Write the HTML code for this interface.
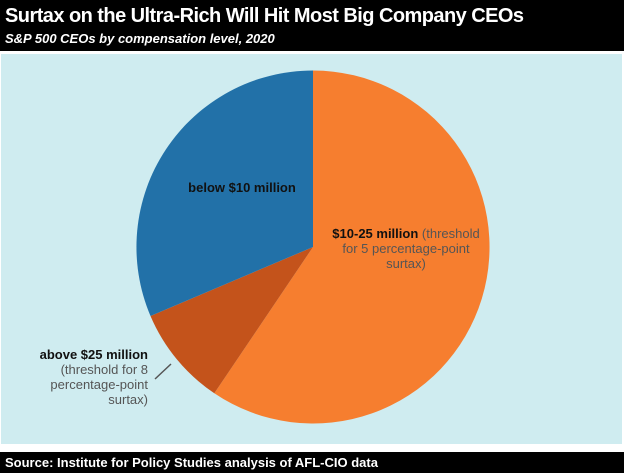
<!DOCTYPE html>
<html><head><meta charset="utf-8"><style>
body{margin:0;width:624px;height:473px;background:#fff;position:relative;overflow:hidden;font-family:"Liberation Sans",Arial,sans-serif}
#hd{position:absolute;left:0;top:0;width:624px;height:51px;background:#000;color:#fff}
#t{position:absolute;left:5px;top:5px;font-size:20px;font-weight:bold;letter-spacing:-0.55px;white-space:nowrap}
#s{position:absolute;left:5px;top:31px;font-size:13px;font-weight:bold;font-style:italic;white-space:nowrap}
#pl{position:absolute;left:1px;top:54px;width:621px;height:390px;background:#cfecf0}
#ft{position:absolute;left:0;top:452px;width:624px;height:21px;background:#000;color:#fff;font-size:13px;font-weight:bold}
</style></head><body>
<div id="hd"><div id="t">Surtax on the Ultra-Rich Will Hit Most Big Company CEOs</div><div id="s">S&amp;P 500 CEOs by compensation level, 2020</div></div>
<div id="pl"></div>
<svg style="position:absolute;left:0;top:0" width="624" height="473">
<path d="M313,247 L313,70.5 A176.5,176.5 0 1 1 214.3,393.3 Z" fill="#f67e2f"/>
<path d="M313,247 L214.3,393.3 A176.5,176.5 0 0 1 150.5,316 Z" fill="#c4531b"/>
<path d="M313,247 L150.5,316 A176.5,176.5 0 0 1 313,70.5 Z" fill="#2271a8"/>
<line x1="155" y1="379" x2="171" y2="364" stroke="#555" stroke-width="1.5"/>
<g font-size="13" font-family="Liberation Sans,Arial,sans-serif">
<text x="242" y="192" text-anchor="middle" font-weight="bold" fill="#111">below $10 million</text>
<text x="406" y="238" text-anchor="middle"><tspan font-weight="bold" fill="#111">$10-25 million</tspan><tspan fill="#555"> (threshold</tspan></text>
<text x="406" y="253" text-anchor="middle" fill="#555">for 5 percentage-point</text>
<text x="406" y="268" text-anchor="middle" fill="#555">surtax)</text>
<text x="148" y="359" text-anchor="end" font-weight="bold" fill="#111">above $25 million</text>
<text x="148" y="374" text-anchor="end" fill="#555">(threshold for 8</text>
<text x="148" y="389" text-anchor="end" fill="#555">percentage-point</text>
<text x="148" y="404" text-anchor="end" fill="#555">surtax)</text>
</g></svg>
<div id="ft"><div style="position:absolute;left:5px;top:3px">Source: Institute for Policy Studies analysis of AFL-CIO data</div></div>
</body></html>
